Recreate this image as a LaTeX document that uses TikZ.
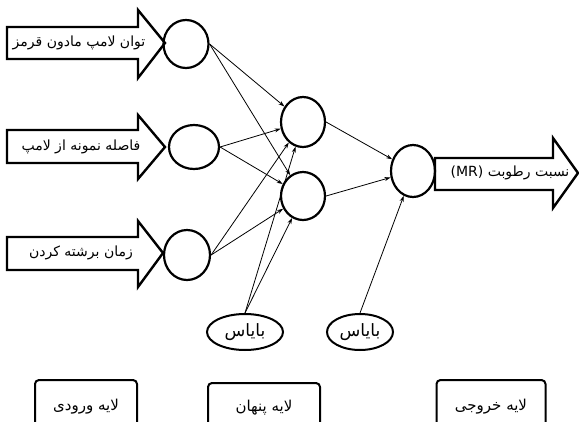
\documentclass[tikz,border=0pt]{standalone}
\usepackage{fontspec}
\newfontfamily\fa[Script=Arabic]{DejaVu Sans}
\TeXXeTstate=1
\usetikzlibrary{shapes.geometric,arrows.meta}
\begin{document}
\begin{tikzpicture}[x=1pt,y=-1pt,
  neuron/.style={ellipse,draw,line width=2.2pt,inner sep=0pt},
  biasnode/.style={ellipse,draw,line width=2pt,inner sep=0pt,font=\fa\fontsize{17}{19}\selectfont},
  blockarrow/.style={draw,line width=2.4pt,line join=miter},
  arrowtext/.style={font=\fa\fontsize{14}{16}\selectfont,inner sep=0pt},
  layerbox/.style={draw,line width=2pt,rounded corners=4pt,inner sep=0pt,font=\fa\fontsize{15}{17}\selectfont},
  conn/.style={line width=0.8pt,-{Stealth[length=6pt,width=4pt]}}]
\clip (0,0) rectangle (579,421);
\fill[white] (0,0) rectangle (579,421);
% block arrows
\draw[blockarrow] (7,27) -- (138,27) -- (138,10) -- (165,43) -- (138,78) -- (138,59) -- (7,59) -- cycle;
\draw[blockarrow] (7,130) -- (138,130) -- (138,115) -- (165,147) -- (138,179) -- (138,163) -- (7,163) -- cycle;
\draw[blockarrow] (7,237) -- (138,237) -- (138,221) -- (163,253) -- (138,287) -- (138,270) -- (7,270) -- cycle;
\draw[blockarrow] (435,158) -- (553,158) -- (553,138) -- (578,173) -- (553,208) -- (553,190) -- (435,190) -- cycle;
% texts on arrows
\node[arrowtext] (t1) at (79,43) {\fa\beginR توان لامپ مادون قرمز\endR};
\node[arrowtext] (t2) at (81,147) {\fa\beginR فاصله نمونه از لامپ\endR};
\node[arrowtext] (t3) at (81,253) {\fa\beginR زمان برشته کردن\endR};
\node[arrowtext] (tout) at (510,173) {(MR) {\fa\beginR نسبت رطوبت\endR}};
% neurons
\node[neuron,minimum width=45pt,minimum height=48pt] (I1) at (186,44) {};
\node[neuron,minimum width=50pt,minimum height=44pt] (I2) at (194,147) {};
\node[neuron,minimum width=46pt,minimum height=50pt] (I3) at (187,255) {};
\node[neuron,minimum width=44pt,minimum height=50pt] (H1) at (303,122) {};
\node[neuron,minimum width=44pt,minimum height=48pt] (H2) at (303,196) {};
\node[neuron,minimum width=44pt,minimum height=52pt] (O) at (413,171) {};
% bias
\node[biasnode,minimum width=76pt,minimum height=36pt] (B1) at (245,332) {\beginR بایاس\endR};
\node[biasnode,minimum width=66pt,minimum height=36pt] (B2) at (360,332) {\beginR بایاس\endR};
% connectors
\draw[conn] (I1.east) -- (H1);
\draw[conn] (I1.east) -- (H2);
\draw[conn] (I2.east) -- (H1);
\draw[conn] (I2.east) -- (H2);
\draw[conn] (I3.east) -- (H1);
\draw[conn] (I3.east) -- (H2);
\draw[conn] (H1.east) -- (O);
\draw[conn] (H2.east) -- (O);
\draw[conn] (B1.north) -- (H1);
\draw[conn] (B1.north) -- (H2);
\draw[conn] (B2.north) -- (O);
% layer boxes
\node[layerbox,minimum width=102pt,minimum height=54pt] (L1) at (86,407) {\beginR لایه ورودی\endR};
\node[layerbox,minimum width=112pt,minimum height=50pt] (L2) at (264,408) {\beginR لایه پنهان\endR};
\node[layerbox,minimum width=109pt,minimum height=54pt] (L3) at (491,407) {\beginR لایه خروجی\endR};
\end{tikzpicture}
\end{document}
